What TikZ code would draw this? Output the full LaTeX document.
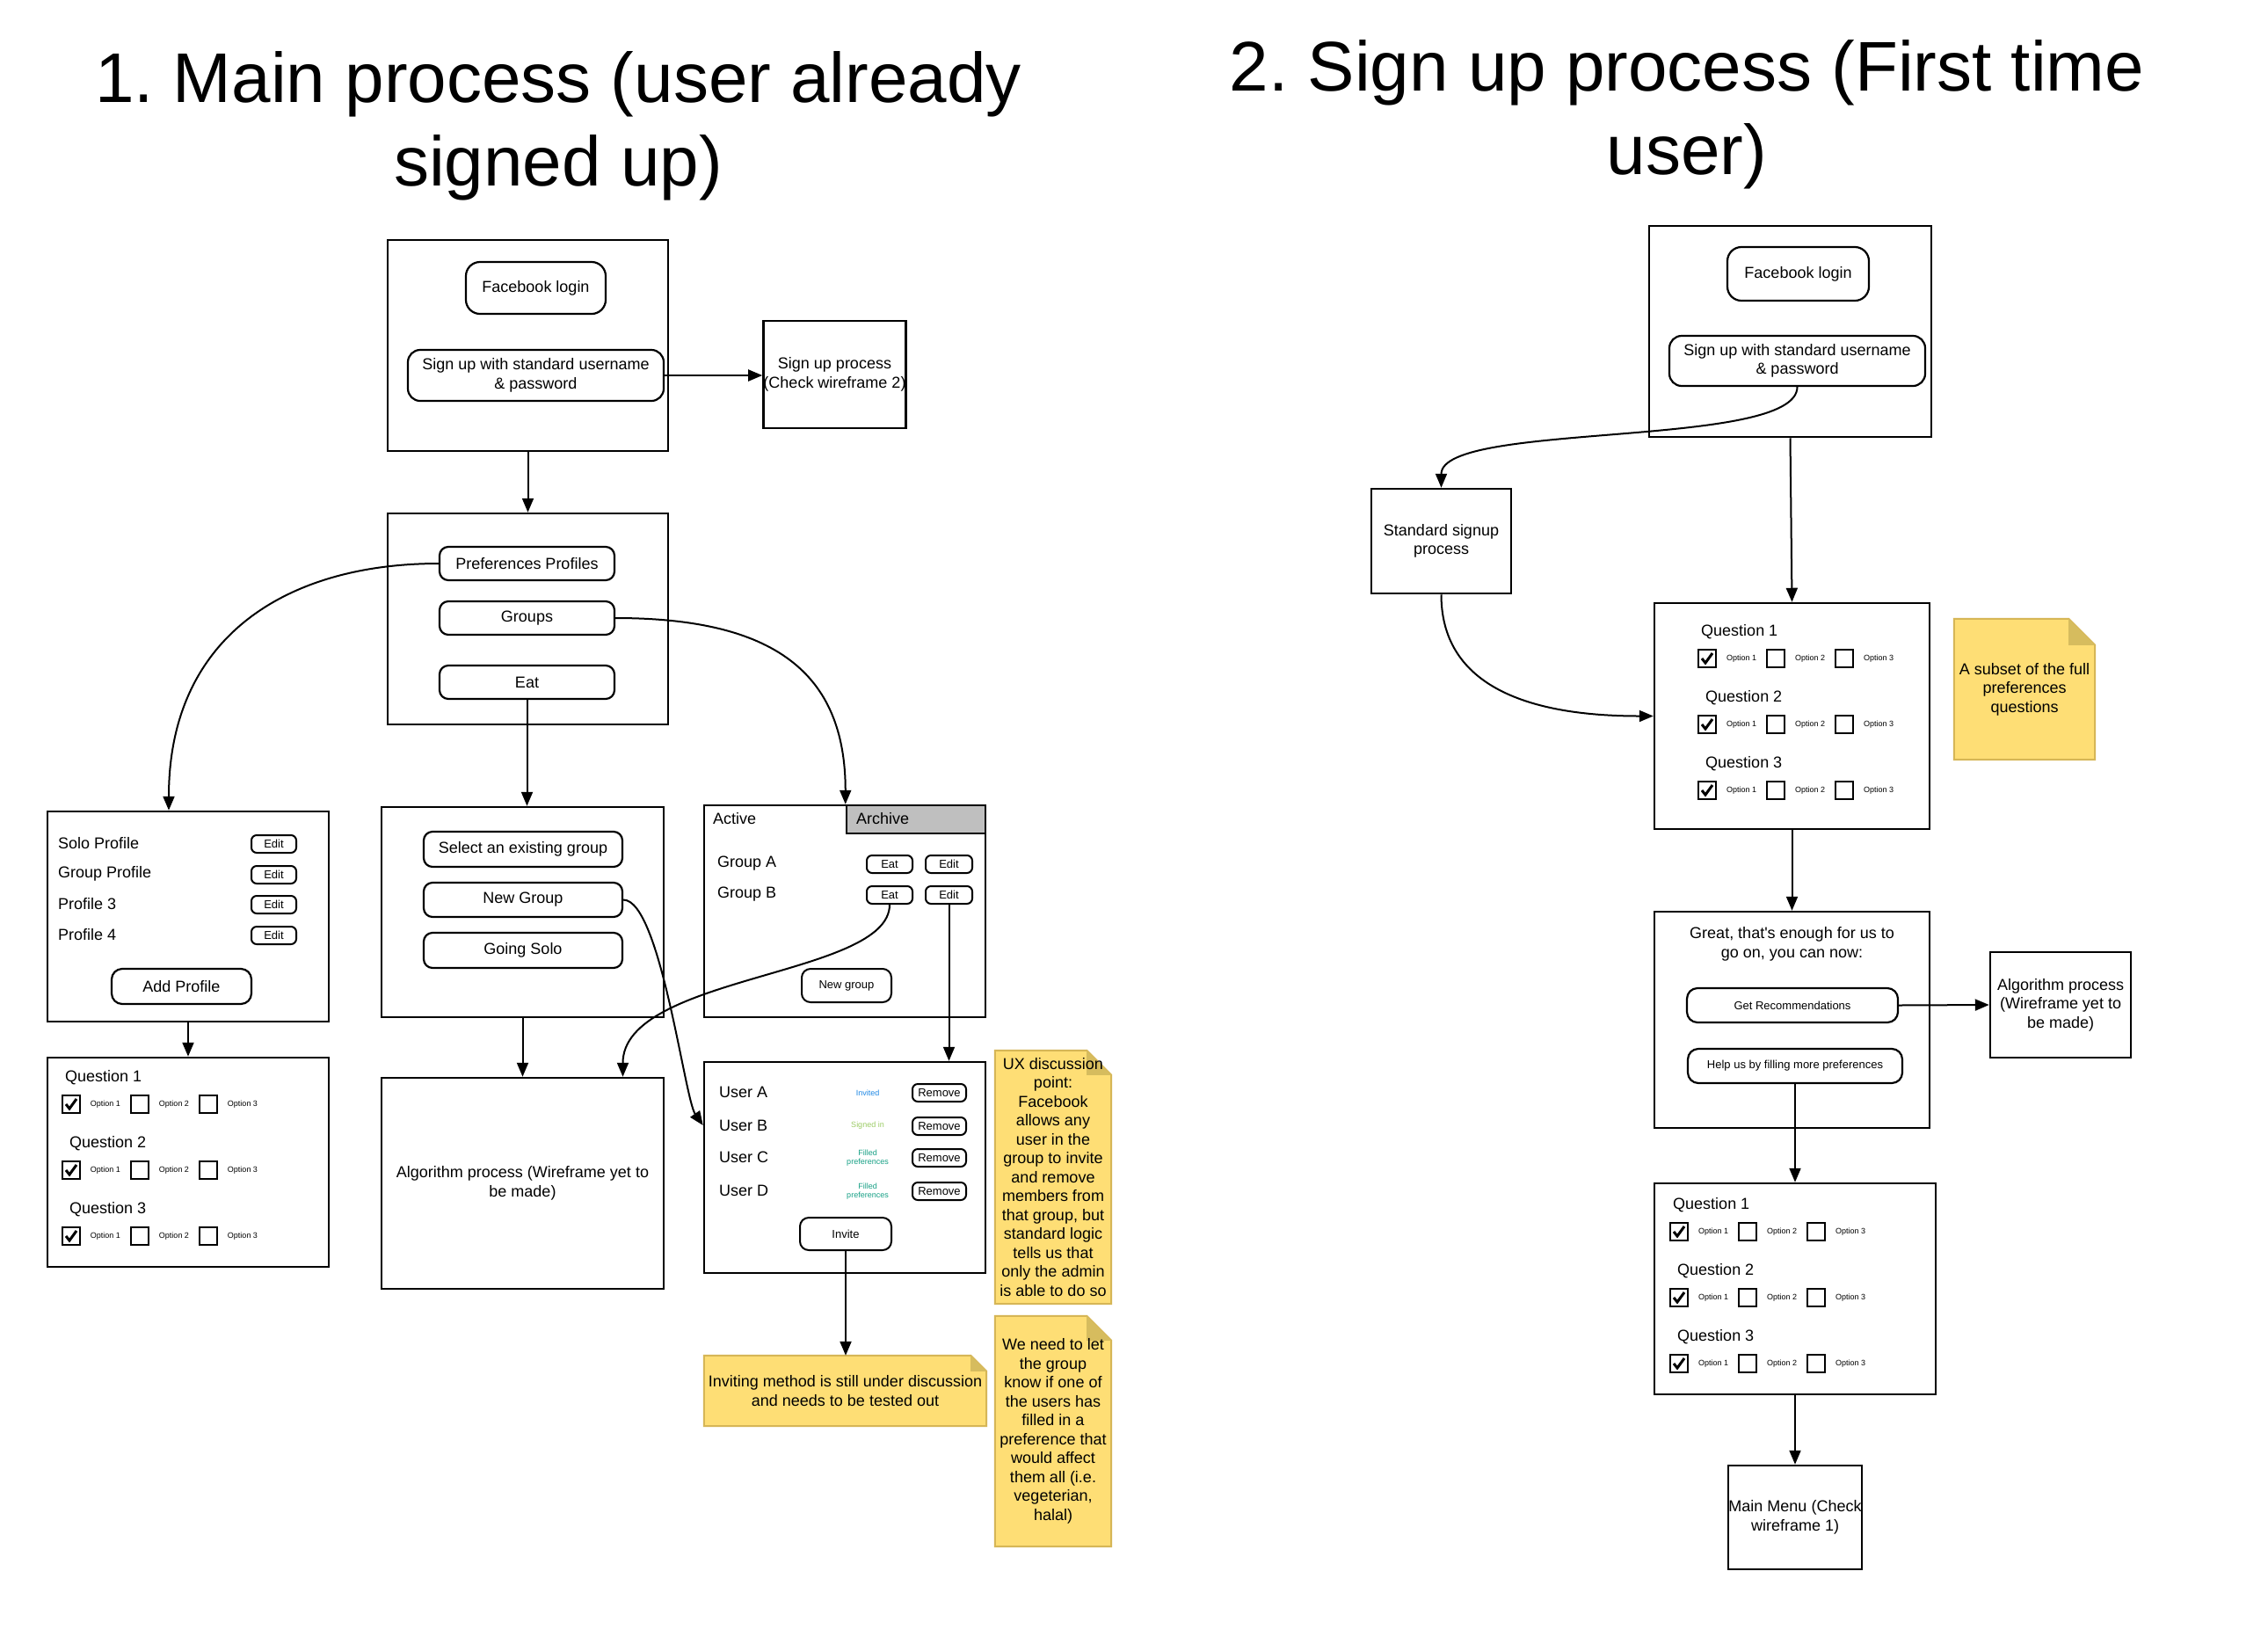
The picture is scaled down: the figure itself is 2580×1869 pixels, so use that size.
\documentclass[tikz,border=0pt]{standalone}
\usepackage{fontspec}
\setmainfont{Liberation Sans}
\usetikzlibrary{arrows.meta,backgrounds}
\frenchspacing

\definecolor{invblue}{RGB}{30,136,229}
\definecolor{signgreen}{RGB}{156,204,101}
\definecolor{filledteal}{RGB}{22,160,133}
\definecolor{archgray}{RGB}{191,191,191}
\definecolor{notefill}{RGB}{254,222,117}
\definecolor{noteline}{RGB}{214,182,86}
\definecolor{notedark}{RGB}{214,188,94}

\newcommand\fTitle{\fontsize{80}{95}\selectfont}
\newcommand\fText{\fontsize{18}{21.5}\selectfont}
\newcommand\fBtn{\fontsize{13}{15}\selectfont}
\newcommand\fTiny{\fontsize{9}{10}\selectfont}

\newcommand\qblock[3]{%
\foreach \i in {1,2,3} {
   \pgfmathsetmacro\qx{#2+3+5*(\i>1)}
   \pgfmathsetmacro\qy{#3+75*(\i-1)}
   \node[lbl] (#1l\i) at (\qx,\qy) {Question \i};
   \foreach \j in {1,2,3} {
      \node[chk] (#1b\i\j) at ({#2+10+78*(\j-1)},\qy+30) {};
      \node[opt] (#1o\i\j) at ({#2+49+78*(\j-1)},\qy+30) {Option \j};
   }
   \draw[tick] ([xshift=-6pt]#1b\i1.center) -- ([xshift=-2pt,yshift=-5pt]#1b\i1.center) -- ([xshift=6pt,yshift=6pt]#1b\i1.center);
}}

\begin{document}
\begin{tikzpicture}[x=1pt,y=-1pt,
box/.style={draw,line width=2.5pt,inner sep=0pt,align=center,font=\fText},
btn/.style={draw,line width=2.2pt,rounded corners=10pt,inner sep=0pt,align=center,font=\fText},
sbtn/.style={draw,line width=2pt,rounded corners=6pt,inner sep=0pt,font=\fBtn,minimum height=20pt},
lbl/.style={anchor=west,inner sep=0pt,font=\fText},
chk/.style={draw,line width=2.5pt,minimum size=20pt,inner sep=0pt},
opt/.style={inner sep=0pt,font=\fTiny},
tick/.style={line width=3pt},
stat/.style={inner sep=0pt,align=center,font=\fTiny},
note/.style={inner sep=0pt,align=center,font=\fText},
arr/.style={-{Triangle[length=16pt,width=13pt]},line width=2pt}]
\begin{scope}[on background layer]
\fill[white] (0,0) rectangle (2580,1869);
\end{scope}
\useasboundingbox (0,0) rectangle (2580,1869);

\node[font=\fTitle,align=center] (title1) at (635,143) {1. Main process (user already\\signed up)};
\node[font=\fTitle,align=center] (title2) at (1919,130) {2. Sign up process (First time\\user)};

\node[box,minimum width=319pt,minimum height=240pt] (login1) at (600.5,393) {};
\node[btn,minimum width=159pt,minimum height=59pt,rounded corners=16pt] (fb1) at (609.5,327.5) {Facebook login};
\node[btn,minimum width=291pt,minimum height=58pt,rounded corners=14pt] (signup1) at (609.5,427) {Sign up with standard username\\\& password};
\node[box,minimum width=161pt,minimum height=122pt] (sproc) at (949.5,426) {Sign up process\\(Check wireframe 2)};

\node[box,minimum width=319pt,minimum height=240pt] (prefs) at (600.5,704) {};
\node[btn,minimum width=199pt,minimum height=38pt] (pp) at (599.5,641) {Preferences Profiles};
\node[btn,minimum width=199pt,minimum height=38pt] (groups) at (599.5,703) {Groups};
\node[btn,minimum width=199pt,minimum height=38pt] (eat) at (599.5,776) {Eat};

\node[box,minimum width=320pt,minimum height=239pt] (profiles) at (214,1042.5) {};
\foreach \y/\t/\n in {959/Solo Profile/pr1,994/Group Profile/pr2,1028/Profile 3/pr3,1063/Profile 4/pr4} {
   \node[lbl] (\n) at (66,\y) {\t};
   \node[sbtn,minimum width=51pt] (\n-edit) at (311.5,\y+1) {Edit};
}
\node[btn,minimum width=159pt,minimum height=40pt,rounded corners=12pt] (addprof) at (206.5,1122) {Add Profile};

\node[box,minimum width=320pt,minimum height=238pt] (quest1) at (214,1322) {};
\qblock{dq}{71}{1226}

\node[box,minimum width=321pt,minimum height=239pt] (choose) at (594.5,1037.5) {};
\node[btn,minimum width=226pt,minimum height=40pt] (selgrp) at (595,966) {Select an existing group};
\node[btn,minimum width=226pt,minimum height=39pt] (newgrp) at (595,1023.5) {New Group};
\node[btn,minimum width=226pt,minimum height=40pt] (solo) at (595,1081) {Going Solo};
\node[box,minimum width=321pt,minimum height=240pt] (algo1) at (594.5,1346) {Algorithm process (Wireframe yet to\\be made)};

\node[box,minimum width=320pt,minimum height=241pt] (grouplist) at (961,1036.5) {};
\node[box,fill=archgray,minimum width=158pt,minimum height=32pt] (archive) at (1042,932) {};
\node[lbl] (active) at (811,931) {Active};
\node[lbl] (archtxt) at (974,931) {Archive};
\foreach \y/\t/\n in {982/Group A/ga,1017/Group B/gb} {
   \node[lbl] (\n) at (816,\y) {\t};
   \node[sbtn,minimum width=52pt] (\n-eat) at (1012,\y+1) {Eat};
   \node[sbtn,minimum width=53pt] (\n-edit) at (1079.5,\y+1) {Edit};
}
\node[sbtn,minimum width=102pt,minimum height=38pt,rounded corners=10pt] (newg) at (963,1121) {New group};

\node[box,minimum width=320pt,minimum height=240pt] (users) at (961,1328) {};
\foreach \y/\t/\n in {1242/User A/ua,1280/User B/ub,1316/User C/uc,1354/User D/ud} {
   \node[lbl] (\n) at (818,\y) {\t};
   \node[sbtn,minimum width=61pt] (\n-rm) at (1068.5,\y+1) {Remove};
}
\node[stat,text=invblue] (sta) at (987,1243) {Invited};
\node[stat,text=signgreen] (stb) at (987,1280) {Signed in};
\node[stat,text=filledteal] (stc) at (987,1317) {Filled\\preferences};
\node[stat,text=filledteal] (std) at (987,1355) {Filled\\preferences};
\node[sbtn,minimum width=104pt,minimum height=37pt,rounded corners=10pt] (invite) at (962,1403.5) {Invite};

\node[note,minimum width=321pt,minimum height=80pt] (invnote) at (961.5,1582) {Inviting method is still under discussion\\and needs to be tested out};
\node[note,minimum width=132pt,minimum height=288pt] (uxnote) at (1198,1339) {UX discussion\\point:\\Facebook\\allows any\\user in the\\group to invite\\and remove\\members from\\that group, but\\standard logic\\tells us that\\only the admin\\is able to do so};
\node[note,minimum width=132pt,minimum height=262pt] (wenote) at (1198,1628) {We need to let\\the group\\know if one of\\the users has\\filled in a\\preference that\\would affect\\them all (i.e.\\vegeterian,\\halal)};

\node[box,minimum width=321pt,minimum height=240pt] (login2) at (2036.5,377) {};
\node[btn,minimum width=161pt,minimum height=61pt,rounded corners=16pt] (fb2) at (2045.5,311.5) {Facebook login};
\node[btn,minimum width=291pt,minimum height=57pt,rounded corners=14pt] (signup2) at (2044.5,410.5) {Sign up with standard username\\\& password};
\node[box,minimum width=159pt,minimum height=119pt] (stdsign) at (1639.5,615.5) {Standard signup\\process};

\node[box,minimum width=313pt,minimum height=257pt] (quick) at (2038.5,814.5) {};
\qblock{lq}{1932}{719}
\node[note,minimum width=160pt,minimum height=160pt] (subset) at (2303,784) {A subset of the full\\preferences\\questions};

\node[box,minimum width=313pt,minimum height=246pt] (great) at (2038.5,1160) {};
\node[note] (greattxt) at (2038.5,1074) {Great, that\textquotesingle s enough for us to\\go on, you can now:};
\node[btn,font=\fBtn,minimum width=240pt,minimum height=39pt,rounded corners=12pt] (getrec) at (2039,1143.5) {Get Recommendations};
\node[btn,font=\fBtn,minimum width=244pt,minimum height=39pt,rounded corners=12pt] (helpus) at (2042,1212.5) {Help us by filling more preferences};
\node[box,minimum width=160pt,minimum height=120pt] (algo2) at (2344,1143) {Algorithm process\\(Wireframe yet to\\be made)};

\node[box,minimum width=320pt,minimum height=240pt] (more) at (2042,1466) {};
\qblock{pq}{1900}{1371}
\node[box,minimum width=152pt,minimum height=118pt] (mainmenu) at (2042,1726) {Main Menu (Check\\wireframe 1)};

\begin{scope}[on background layer]
\foreach \n/\f in {invnote/18,uxnote/28,wenote/28,subset/30} {
   \filldraw[fill=notefill,draw=noteline,line width=2pt] (\n.north west) -- ([xshift=-\f pt]\n.north east) -- ([yshift=-\f pt]\n.north east) -- (\n.south east) -- (\n.south west) -- cycle;
   \fill[notedark] ([xshift=-\f pt]\n.north east) -- ([xshift=-\f pt,yshift=-\f pt]\n.north east) -- ([yshift=-\f pt]\n.north east) -- cycle;
}
\end{scope}

\draw[arr] (signup1.east) -- (signup1.east -| sproc.west);
\draw[arr] (login1.south) -- (prefs.north);
\draw[arr] (pp.west) .. controls +(-170,0) and +(0,-200) .. ([xshift=-22pt]profiles.north);
\draw[arr] (groups.east) .. controls +(180,0) and +(0,-150) .. (archive.north west);
\draw[arr] (eat.south) -- (eat.south |- choose.north);
\draw[arr] (profiles.south) -- (quest1.north);
\draw[arr] (choose.south) -- (algo1.north);
\draw[arr] (newgrp.east) .. controls +(42,0) and +(-21,-30) .. (ub -| users.west);
\draw[arr] (gb-eat.south) .. controls +(0,82) and +(0,-116) .. ([xshift=114pt]algo1.north);
\draw[arr] (gb-edit.south) -- (gb-edit.south |- users.north);
\draw[arr] (invite.south) -- (invite.south |- invnote.north);

\draw[arr] (signup2.south) .. controls +(0,71) and +(0,-76) .. (stdsign.north);
\draw[arr] (login2.south) -- (quick.north);
\draw[arr] (stdsign.south) .. controls +(0,100) and +(-150,0) .. (quick.west);
\draw[arr] (quick.south) -- (great.north);
\draw[arr] (getrec.east) -- (algo2.west);
\draw[arr] (helpus.south) -- (helpus.south |- more.north);
\draw[arr] (more.south) -- (mainmenu.north);
\end{tikzpicture}
\end{document}
